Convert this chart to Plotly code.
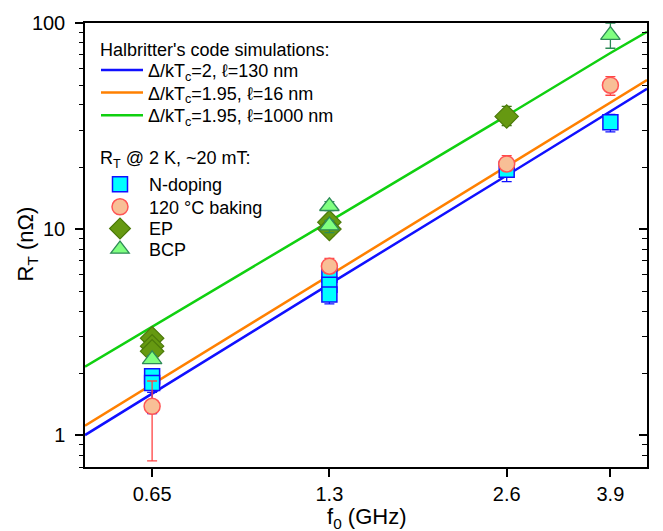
import math
import plotly.graph_objects as go

# ---- simulation lines ----
f_sim = [0.5, 0.65, 1.3, 2.6, 3.9, 4.5]
r_blue = [1.0, 1.59, 5.4, 18.2, 37.2, 47.9]
r_orange = [1.11, 1.76, 5.95, 20.1, 41.1, 52.9]
r_green = [2.15, 3.35, 10.9, 35.5, 71.5, 90.6]

# ---- measured R_T ----
f_ndop = [0.65, 0.65, 1.3, 1.3, 1.3, 2.6, 3.9]
r_ndop = [1.93, 1.79, 6.0, 5.37, 4.81, 19.4, 33.0]
ndop_plus = [0.1, 0.1, 0.2, 0.2, 0.2, 0.8, 3.0]
ndop_minus = [0.32, 0.52, 0.3, 0.3, 0.48, 2.4, 3.4]

f_bake = [0.65, 1.3, 2.6, 3.9]
r_bake = [1.38, 6.6, 20.7, 49.9]
bake_plus = [0.45, 0.6, 2.0, 5.0]
bake_minus = [0.63, 0.5, 1.5, 5.3]

f_ep = [0.65, 0.65, 0.65, 1.3, 1.3, 2.6]
r_ep = [2.95, 2.7, 2.55, 10.8, 10.0, 35.2]
ep_plus = [0.1, 0.1, 0.1, 0.5, 0.5, 4.2]
ep_minus = [0.1, 0.1, 0.1, 0.5, 0.7, 3.4]

f_bcp = [0.65, 1.3, 1.3, 3.9]
r_bcp = [2.33, 12.9, 10.4, 87.4]
bcp_plus = [0.1, 0.7, 0.6, 12.6]
bcp_minus = [0.1, 0.6, 0.8, 12.0]

sim_names = ["Δ/kT<sub>c</sub>=2, ℓ=130 nm",
             "Δ/kT<sub>c</sub>=1.95, ℓ=16 nm",
             "Δ/kT<sub>c</sub>=1.95, ℓ=1000 nm"]
legend_title_1 = "Halbritter's code simulations:"
legend_title_2 = "R<sub>T</sub> @ 2 K, ~20 mT:"
x_title = "f<sub>0</sub> (GHz)"
y_title = "R<sub>T</sub> (nΩ)"

FONT = "Arial, Liberation Sans, sans-serif"
LEG_FS = 18
TITLE_FS = 22

# plot-area geometry (px) used to place legend blocks and titles
L, R, T, B = 85, 16, 16, 64
W, H = 663, 531
PW, PH = W - L - R, H - T - B

def px_x(x):
    return (x - L) / PW

def px_y(y):
    return (H - B - y) / PH

fig = go.Figure()
line_legend_y = [64, 87, 110]
for i, (r, c, n) in enumerate([(r_blue, "#1010FF", sim_names[0]),
                               (r_orange, "#FF8000", sim_names[1]),
                               (r_green, "#10D010", sim_names[2])]):
    fig.add_trace(go.Scatter(x=f_sim, y=r, mode="lines", name=n,
                             line=dict(color=c, width=2.5),
                             legend="legend" if i == 0 else f"legend{i + 1}"))

def err(p, m, c):
    return dict(type="data", symmetric=False, array=p, arrayminus=m,
                color=c, thickness=1.3, width=5)

fig.add_trace(go.Scatter(x=f_ndop, y=r_ndop, mode="markers", name="N-doping",
                         marker=dict(symbol="square", size=15, color="#00FFFF",
                                     line=dict(color="#1010FF", width=1.5)),
                         error_y=err(ndop_plus, ndop_minus, "#1010FF"),
                         legend="legend4"))
fig.add_trace(go.Scatter(x=f_bake, y=r_bake, mode="markers", name="120 °C baking",
                         marker=dict(symbol="circle", size=16, color="#F8BF96",
                                     line=dict(color="#FF5555", width=1.5)),
                         error_y=err(bake_plus, bake_minus, "#FF4444"),
                         legend="legend5"))
fig.add_trace(go.Scatter(x=f_ep, y=r_ep, mode="markers", name="EP",
                         marker=dict(symbol="diamond", size=18, color="#669911",
                                     line=dict(color="#4C7A0A", width=1.2)),
                         error_y=err(ep_plus, ep_minus, "#3F7A10"),
                         legend="legend6"))
fig.add_trace(go.Scatter(x=f_bcp, y=r_bcp, mode="markers", name="BCP",
                         marker=dict(symbol="triangle-up", size=17, color="#80FF80",
                                     line=dict(color="#2E8B57", width=1.3)),
                         error_y=err(bcp_plus, bcp_minus, "#2E8B57"),
                         legend="legend7"))
# invisible trace to anchor the right-hand mirror axis
fig.add_trace(go.Scatter(x=[1], y=[1], yaxis="y2", mode="markers",
                         marker=dict(opacity=0), showlegend=False, hoverinfo="skip"))

marker_legend_y = [180, 203, 225, 246]

def leg(y, x, iw):
    return dict(x=x, y=px_y(y), xanchor="left", yanchor="middle",
                bgcolor="rgba(0,0,0,0)", font=dict(size=LEG_FS, family=FONT),
                itemwidth=iw, tracegroupgap=0)

legends = {}
for i, y in enumerate(line_legend_y):
    key = "legend" if i == 0 else f"legend{i + 1}"
    legends[key] = leg(y, px_x(96), 42)
for j, y in enumerate(marker_legend_y):
    legends[f"legend{j + 4}"] = leg(y, px_x(91), 48)

yr = [math.log10(0.7), 2]
fig.update_layout(
    width=W, height=H,
    margin=dict(l=L, r=R, t=T, b=B),
    paper_bgcolor="white", plot_bgcolor="white",
    font=dict(family=FONT, color="black", size=20),
    xaxis=dict(type="log", range=[math.log10(0.5), math.log10(4.5)],
               tickvals=[0.65, 1.3, 2.6, 3.9], ticktext=["0.65", "1.3", "2.6", "3.9"],
               ticks="outside", ticklen=8, tickwidth=1.5, tickcolor="black",
               showline=True, linecolor="black", linewidth=1.5, mirror=True,
               showgrid=False, zeroline=False, tickfont=dict(size=20)),
    yaxis=dict(type="log", range=yr, tickvals=[1, 10, 100], ticktext=["1", "10", "100"],
               ticks="outside", ticklen=8, tickwidth=1.5, tickcolor="black",
               ticklabelstandoff=6,
               minor=dict(ticks="outside", ticklen=4, tickwidth=1.3, tickcolor="black",
                          dtick="D1", showgrid=False),
               showline=True, linecolor="black", linewidth=1.5, mirror=True,
               showgrid=False, zeroline=False, tickfont=dict(size=20)),
    yaxis2=dict(type="log", range=yr, overlaying="y", side="right", anchor="x",
                tickvals=[1, 10, 100], showticklabels=False,
                ticks="inside", ticklen=8, tickwidth=1.5, tickcolor="black",
                minor=dict(ticks="inside", ticklen=5, tickwidth=1.3, tickcolor="black",
                           dtick="D1", showgrid=False),
                showline=False, showgrid=False, zeroline=False),
    showlegend=True,
    annotations=[
        dict(text=legend_title_1, x=px_x(98), y=px_y(43), xref="paper", yref="paper",
             xanchor="left", yanchor="middle", showarrow=False, font=dict(size=LEG_FS)),
        dict(text=legend_title_2, x=px_x(98), y=px_y(155), xref="paper", yref="paper",
             xanchor="left", yanchor="middle", showarrow=False, font=dict(size=LEG_FS)),
        dict(text=x_title, x=px_x(366), y=px_y(519), xref="paper", yref="paper",
             xanchor="center", yanchor="middle", showarrow=False,
             font=dict(size=TITLE_FS)),
        dict(text=y_title, x=px_x(27), y=px_y(241), xref="paper", yref="paper",
             xanchor="center", yanchor="middle", showarrow=False, textangle=-90,
             font=dict(size=TITLE_FS)),
    ],
    **legends,
)
fig.write_html("out.html")
